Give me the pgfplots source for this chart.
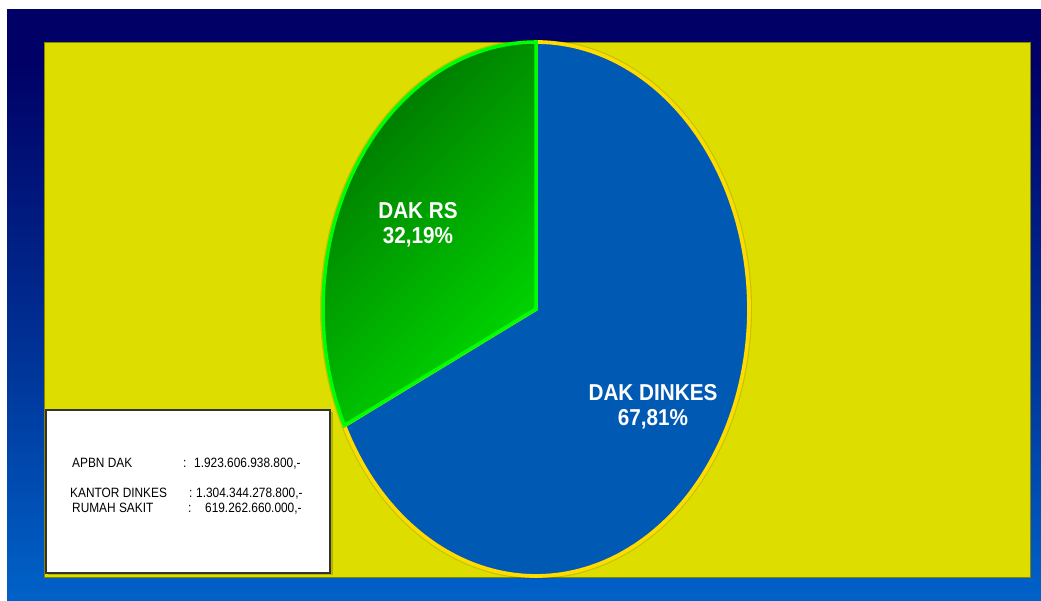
\documentclass[border=0pt]{standalone}
\usepackage{pgfplots}
\pgfplotsset{compat=1.18}
\usepackage{fontspec}
\setmainfont{Liberation Sans}
\definecolor{navy}{HTML}{000066}
\definecolor{framebot}{HTML}{0062C8}
\definecolor{framemid}{HTML}{002E92}
\definecolor{ylw}{HTML}{DDDD00}
\definecolor{pieblue}{HTML}{005AB4}
\definecolor{gdark}{HTML}{007200}
\definecolor{gbright}{HTML}{00DA00}
\definecolor{gline}{HTML}{00FF00}
\definecolor{yline}{HTML}{FFDC00}
\begin{document}
\begin{tikzpicture}
\begin{axis}[
  scale only axis, width=1041pt, height=600pt,
  xmin=0, xmax=1041, ymin=0, ymax=600,
  hide axis, clip=false,
]
% page background and frame
\fill[white] (0,0) rectangle (1041,600);
\fill[navy] (7,591) rectangle (1041,540);
\shade[top color=navy, bottom color=framebot, middle color=framemid] (7,0) rectangle (1041,540);
% yellow panel
\fill[ylw] (44,23) rectangle (1030,558);
\draw[ylw!60!black, line width=0.8pt] (44,23) rectangle (1030,558);

% pie data: DAK RS 32.19 %, DAK DINKES 67.81 %
\def\pRS{32.19}
\def\pDK{67.81}
\pgfmathsetmacro{\aA}{90}
\pgfmathsetmacro{\aB}{90+3.6*\pRS}
\pgfmathsetmacro{\aC}{\aB+3.6*\pDK}

% soft shadow
\addplot[draw=black, opacity=0.12, line width=6pt, domain=0:360, samples=200, variable=\t]
  ({536+213*cos(\t)}, {291+267*sin(\t)});
% DAK DINKES slice
\addplot[fill=pieblue, draw=yline, line width=3.8pt, domain=\aB:\aC, samples=200, variable=\t]
  ({536+213*cos(\t)}, {291+267*sin(\t)}) -- (536,291) -- cycle;
% DAK RS slice
\addplot[top color=gdark, bottom color=gbright, shading angle=45, draw=gline, line width=3.5pt, domain=\aA:\aB, samples=120, variable=\t]
  ({536+213*cos(\t)}, {291+267*sin(\t)}) -- (536,291) -- cycle;

% labels
\node[white, font=\fontsize{23}{25}\selectfont\bfseries, align=center, xscale=0.9] at (418,375) {DAK RS\\32,19\%};
\node[white, font=\fontsize{23}{25}\selectfont\bfseries, align=center, xscale=0.9] at (653,193) {DAK DINKES\\67,81\%};

% info box
\fill[ylw!70!black, opacity=0.6] (48,25) rectangle (333,188);
\fill[white] (46,27) rectangle (330,190);
\draw[black!80, line width=1.5pt] (46,27) rectangle (330,190);
\begin{scope}[every node/.style={font=\fontsize{13.5}{14}\selectfont, anchor=base west, inner sep=0pt, xscale=0.88}]
\node at (72,133) {APBN DAK};
\node at (183,133) {:};
\node at (194,133) {1.923.606.938.800,-};
\node at (70,103) {KANTOR DINKES};
\node at (189,103) {:};
\node at (196,103) {1.304.344.278.800,-};
\node at (72,88) {RUMAH SAKIT};
\node at (188,88) {:};
\node at (205,88) {619.262.660.000,-};
\end{scope}
\end{axis}
\end{tikzpicture}
\end{document}
